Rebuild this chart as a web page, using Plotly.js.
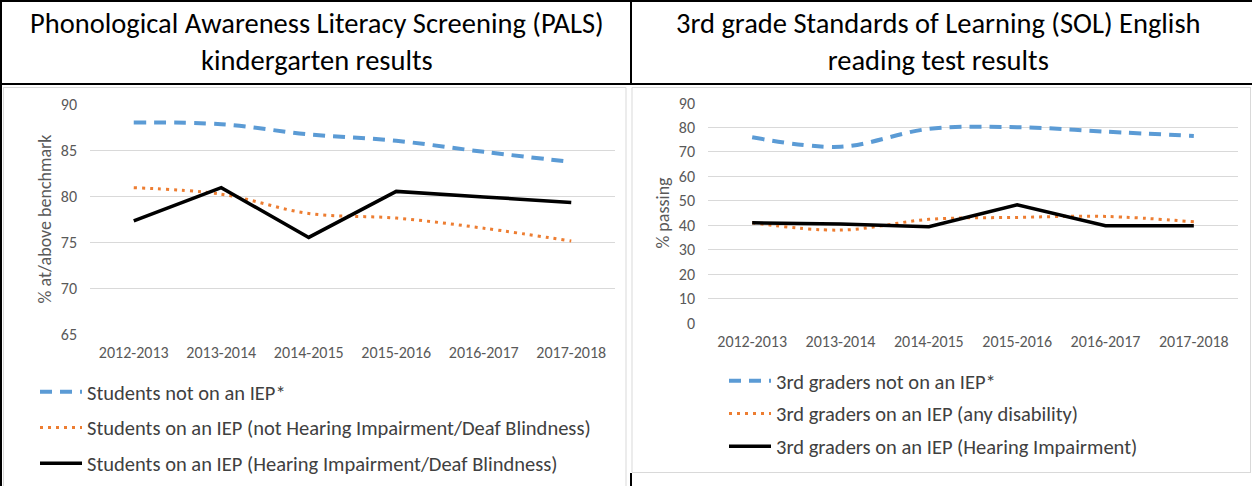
<!DOCTYPE html>
<html>
<head>
<meta charset="utf-8">
<script src="https://cdn.plot.ly/plotly-3.0.1.min.js"></script>
<style>
  html, body { margin: 0; padding: 0; background: #ffffff; }
  #chart { width: 1252px; height: 486px; }
</style>
</head>
<body>
<div id="chart"></div>
<script>
// ---------- data ----------
const categories = ['2012-2013', '2013-2014', '2014-2015', '2015-2016', '2016-2017', '2017-2018'];

const palsTitle = 'Phonological Awareness Literacy Screening (PALS)<br>kindergarten results';
const palsYTitle = '% at/above benchmark';
const palsNames = [
  'Students not on an IEP*',
  'Students on an IEP (not Hearing Impairment/Deaf Blindness)',
  'Students on an IEP (Hearing Impairment/Deaf Blindness)'
];
const palsNotIEP   = [88.0, 87.8, 86.7, 86.0, 84.8, 83.7];
const palsIEPOther = [80.9, 80.2, 78.1, 77.6, 76.5, 75.1];
const palsIEPHI    = [77.3, 80.9, 75.5, 80.5, 79.9, 79.3];

const solTitle = '3rd grade Standards of Learning (SOL) English<br>reading test results';
const solYTitle = '% passing';
const solNames = [
  '3rd graders not on an IEP*',
  '3rd graders on an IEP (any disability)',
  '3rd graders on an IEP (Hearing Impairment)'
];
const solNotIEP = [76.0, 72.1, 79.4, 80.1, 78.3, 76.5];
const solIEPAny = [41.0, 38.0, 42.4, 43.2, 43.6, 41.4];
const solIEPHI  = [41.0, 40.5, 39.4, 48.4, 39.8, 39.8];

// ---------- layout helpers ----------
const W = 1252, H = 486;
const px = x => x / W;
const py = y => 1 - y / H;

const FONT = 'Carlito, Lato, sans-serif';
const BLUE = '#5B9BD5', ORANGE = '#ED7D31', GRID = '#D9D9D9', TICK = '#595959';

const blueLine   = { color: BLUE, width: 4, dash: '12px,8px', shape: 'spline', smoothing: 1 };
const orangeLine = { color: ORANGE, width: 3, dash: '3px,5px', shape: 'spline', smoothing: 1 };
const blackLine  = { color: '#000000', width: 3.5 };

function tr(y, name, line, xa, ya, leg, grp) {
  return { type: 'scatter', mode: 'lines', x: categories, y: y, name: name, line: line,
           xaxis: xa, yaxis: ya, legend: leg, legendgroup: grp, hoverinfo: 'skip' };
}

const data = [
  tr(palsNotIEP,   palsNames[0], blueLine,   'x',  'y',  'legend',  'a1'),
  tr(palsIEPOther, palsNames[1], orangeLine, 'x',  'y',  'legend',  'a2'),
  tr(palsIEPHI,    palsNames[2], blackLine,  'x',  'y',  'legend',  'a3'),
  tr(solNotIEP,    solNames[0],  blueLine,   'x2', 'y2', 'legend2', 'b1'),
  tr(solIEPAny,    solNames[1],  orangeLine, 'x2', 'y2', 'legend2', 'b2'),
  tr(solIEPHI,     solNames[2],  blackLine,  'x2', 'y2', 'legend2', 'b3')
];

function xAxis(d, anchor) {
  return { domain: d, anchor: anchor, type: 'category', range: [-0.5, 5.5], showgrid: false, zeroline: false,
           showline: false, ticks: '', ticklabelstandoff: 7, fixedrange: true,
           tickfont: { family: FONT, size: 16, color: TICK } };
}
function yAxis(d, r, dt, title, anchor) {
  return { domain: d, range: r, dtick: dt, tick0: 0, showgrid: true, gridcolor: GRID, gridwidth: 1,
           zeroline: false, showline: false, ticks: '', ticklabelstandoff: 12, fixedrange: true,
           anchor: anchor,
           tickfont: { family: FONT, size: 16, color: TICK },
           title: { text: title, standoff: 4, font: { family: FONT, size: 18, color: TICK } } };
}

function hline(x0, x1, y, color, w) {
  return { type: 'line', xref: 'paper', yref: 'paper', x0: px(x0), x1: px(x1), y0: py(y), y1: py(y),
           line: { color: color, width: w } };
}
function vline(x, y0, y1, color, w) {
  return { type: 'line', xref: 'paper', yref: 'paper', x0: px(x), x1: px(x), y0: py(y0), y1: py(y1),
           line: { color: color, width: w } };
}

const shapes = [
  // chart frames (light grey)
  hline(3, 626, 87.5, GRID, 1), vline(626, 87.5, 486, GRID, 1), vline(3.5, 87.5, 486, GRID, 1),
  hline(632, 1251, 87.5, GRID, 1), vline(632, 87.5, 472, GRID, 1), vline(1250.5, 87.5, 472, GRID, 1),
  hline(632, 1251, 472.5, GRID, 1),
  // table borders (black)
  vline(1, 0, 486, '#000', 2), hline(0, 1252, 1, '#000', 2), hline(0, 1252, 84, '#000', 2),
  vline(631, 0, 84, '#000', 2), vline(631, 473, 486, '#000', 2)
];

const annotations = [
  { text: palsTitle, xref: 'paper', yref: 'paper', x: px(317), y: py(42), xanchor: 'center', yanchor: 'middle',
    showarrow: false, font: { family: FONT, size: 28.5, color: '#000' } },
  { text: solTitle, xref: 'paper', yref: 'paper', x: px(938), y: py(42), xanchor: 'center', yanchor: 'middle',
    showarrow: false, font: { family: FONT, size: 28.5, color: '#000' } }
];

function legendCfg(x, y, gap) {
  return { x: px(x), y: py(y), xanchor: 'left', yanchor: 'top', bgcolor: 'rgba(0,0,0,0)', borderwidth: 0,
           itemwidth: 42, traceorder: 'grouped', tracegroupgap: gap, itemclick: false, itemdoubleclick: false,
           font: { family: FONT, size: 20.5, color: '#404040' } };
}

const layout = {
  width: W, height: H, margin: { l: 0, r: 0, t: 0, b: 0 },
  paper_bgcolor: '#ffffff', plot_bgcolor: 'rgba(0,0,0,0)',
  showlegend: true, hovermode: false,
  font: { family: FONT, color: TICK },
  xaxis: xAxis([px(90), px(615)], 'y'),
  yaxis: yAxis([py(334), py(104)], [65, 90], 5, palsYTitle, 'x'),
  xaxis2: xAxis([px(708), px(1238)], 'y2'),
  yaxis2: yAxis([py(323), py(103)], [0, 90], 10, solYTitle, 'x2'),
  legend: legendCfg(35, 372, 6),
  legend2: legendCfg(724, 361, 3),
  shapes: shapes,
  annotations: annotations
};

Plotly.newPlot('chart', data, layout, { staticPlot: true, displayModeBar: false });
</script>
</body>
</html>
